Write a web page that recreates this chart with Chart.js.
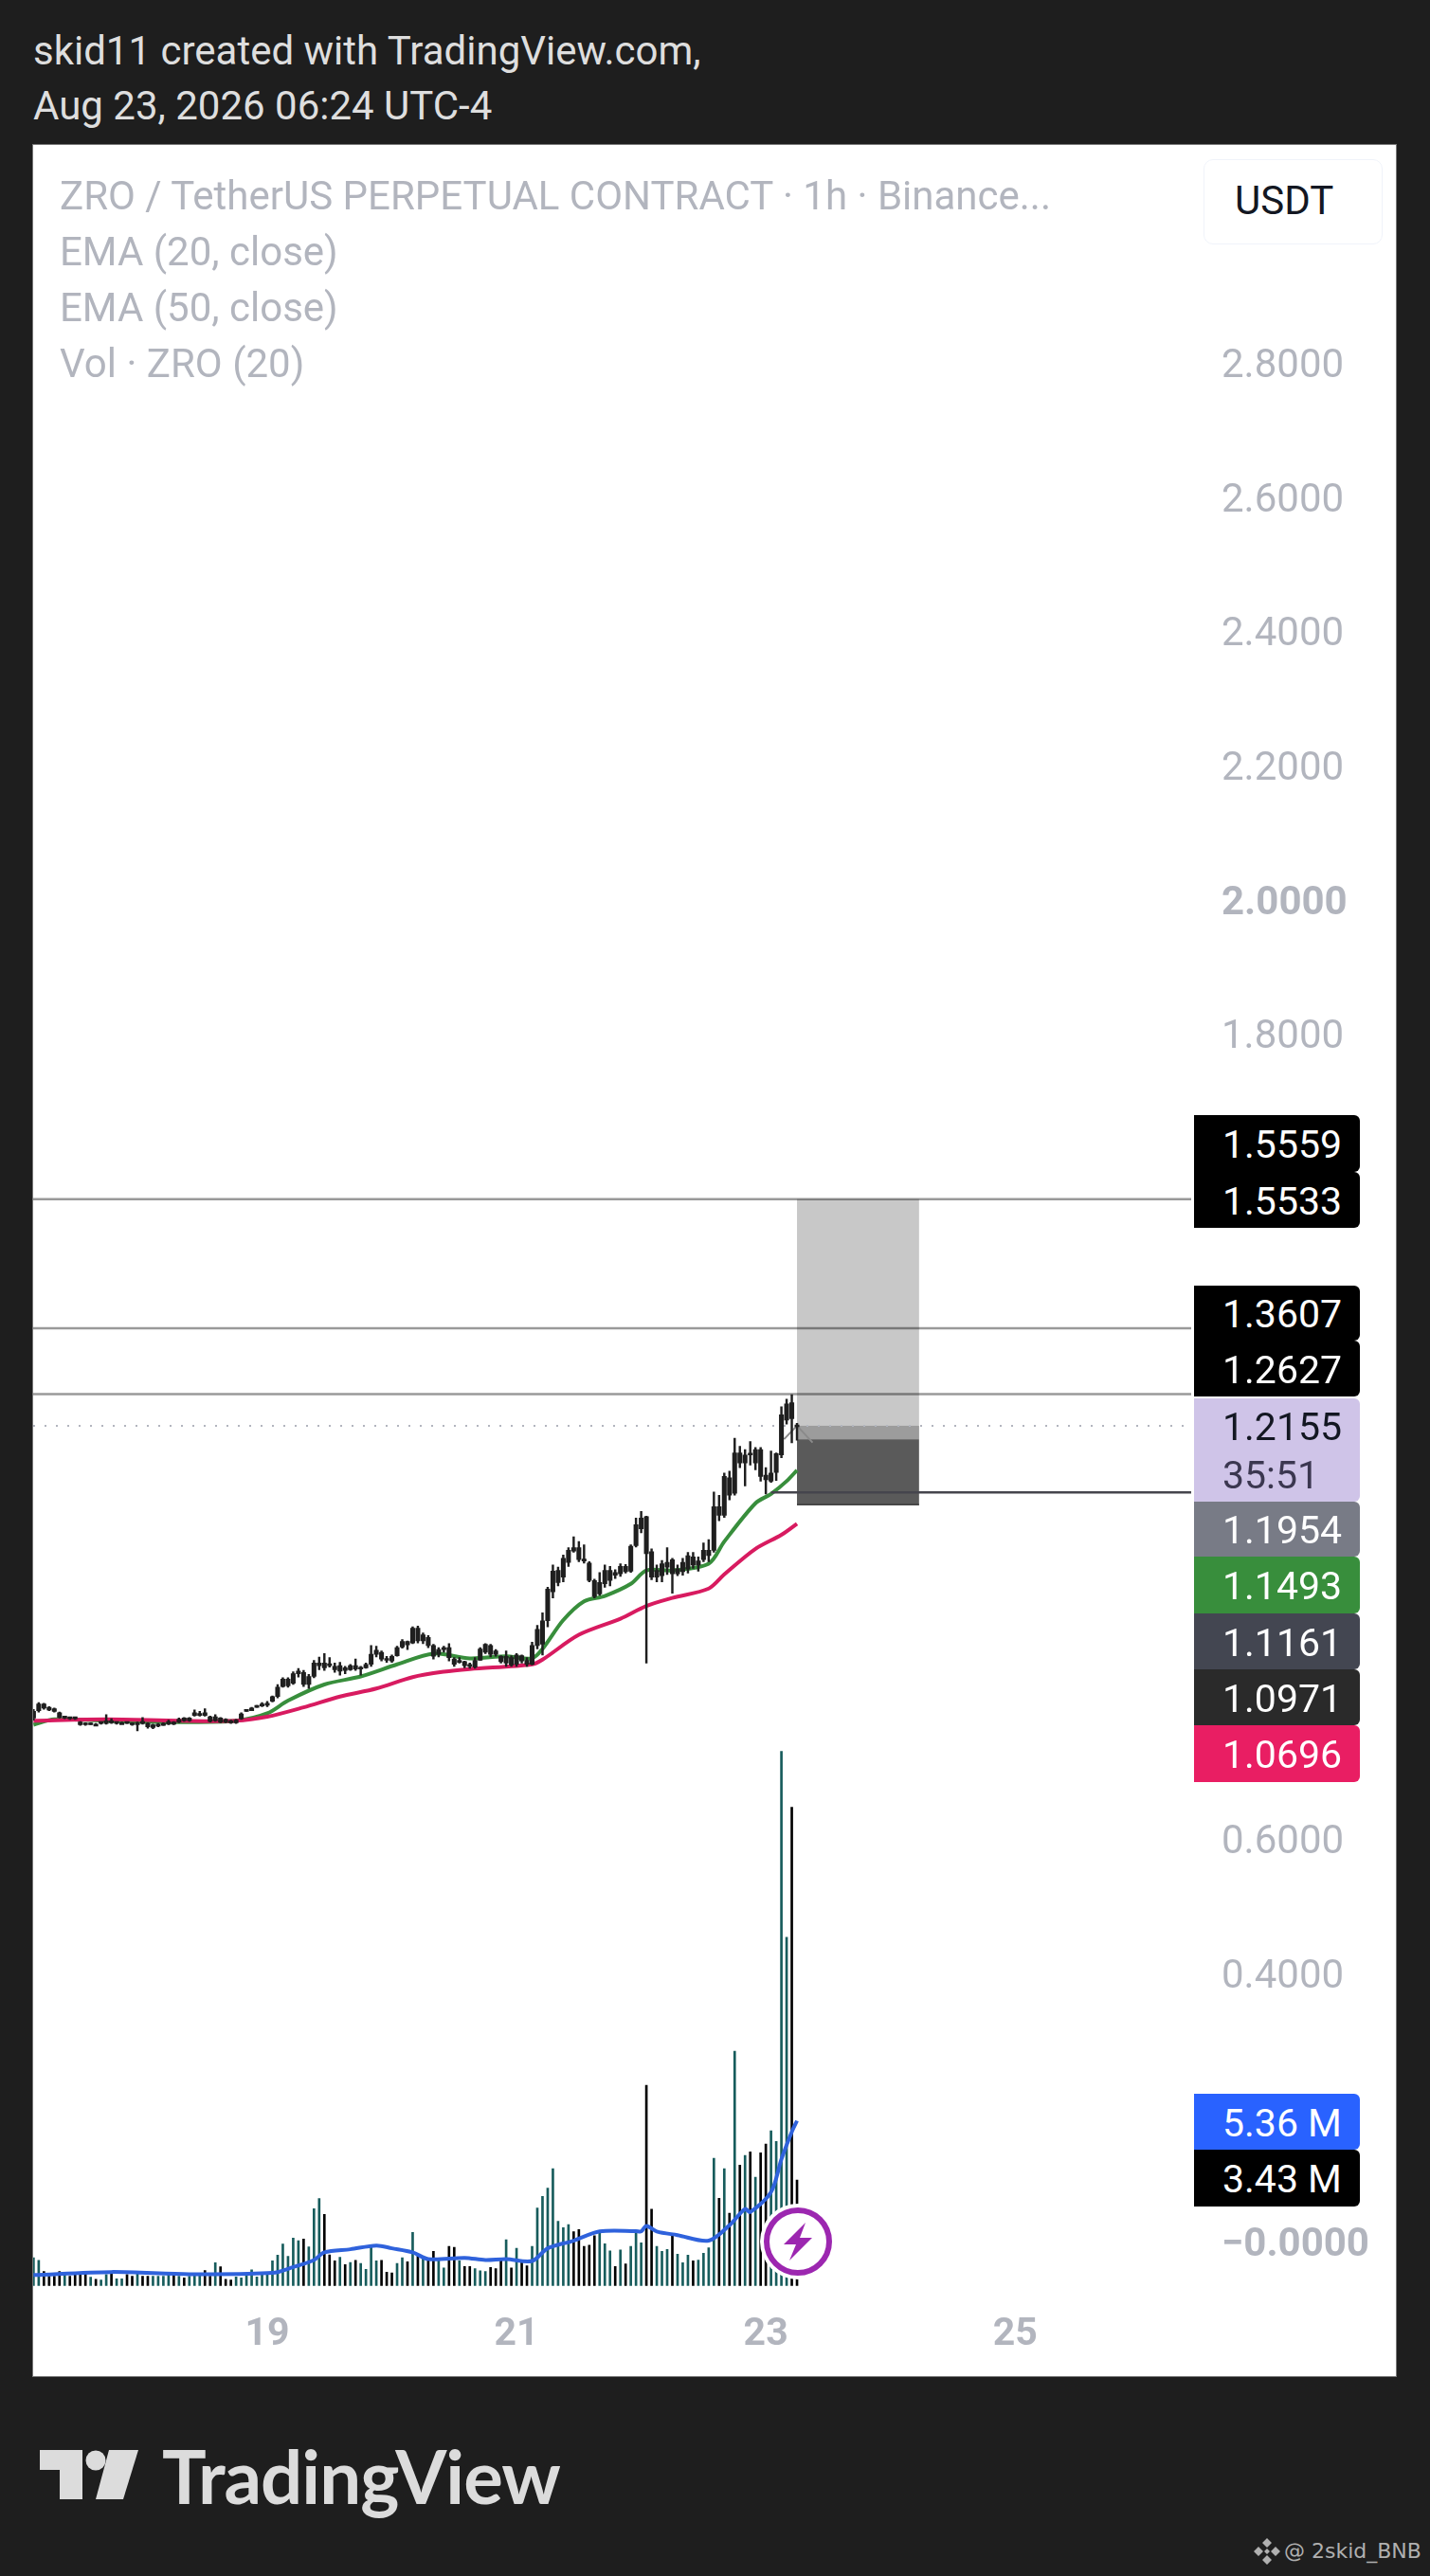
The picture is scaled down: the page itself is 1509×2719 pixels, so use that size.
<!DOCTYPE html>
<html>
<head>
<meta charset="utf-8">
<title>ZRO / TetherUS</title>
<script src="https://cdn.jsdelivr.net/npm/chart.js@4"></script>
<style>
  html, body { margin: 0; padding: 0; background: #1e1e1e; }
  body { position: relative; width: 1509px; height: 2719px; overflow: hidden; font-family: Roboto, sans-serif; }
  .abs { position: absolute; white-space: nowrap; }
  .header { left: 35px; color: #dedede; font-size: 42px; line-height: 50px; }
  #panel { left: 35px; top: 153px; width: 1438px; height: 2355px; background: #fff; box-shadow: 0 0 0 1px #777; }
  #chart { position: absolute; left: 35px; top: 153px; }
  .legend { left: 63px; color: #b2b5be; font-size: 42px; line-height: 50px; }
  #unit { left: 1270px; top: 168px; width: 187px; height: 88px; border: 1px solid #f0f3fa; border-radius: 10px;
          background: #fff; color: #131722; font-size: 42px; line-height: 86px; text-align: left; text-indent: 32px; }
  .tag { left: 1260px; width: 145px; padding-left: 30px; color: #fff; font-size: 41px; border-radius: 0 6px 6px 0; }
  #logo-text { left: 171px; top: 2566px; color: #dcdcdc; font-family: Lato, sans-serif; font-weight: 700; font-size: 78px; line-height: 94px; letter-spacing: -1px; }
  #watermark { left: 1355px; top: 2680px; color: #b0b0b0; font-family: "DejaVu Sans", sans-serif; font-size: 22px; line-height: 26px; }
</style>
</head>
<body>
<div class="abs header" style="top:29px">skid11 created with TradingView.com,</div>
<div class="abs header" style="top:87px">Aug 23, 2026 06:24 UTC-4</div>
<div class="abs" id="panel"></div>
<canvas id="chart" width="1438" height="2355"></canvas>
<div class="abs legend" style="top:182px">ZRO / TetherUS PERPETUAL CONTRACT · 1h · Binance...</div>
<div class="abs legend" style="top:241px">EMA (20, close)</div>
<div class="abs legend" style="top:300px">EMA (50, close)</div>
<div class="abs legend" style="top:359px">Vol · ZRO (20)</div>
<div class="abs" id="unit">USDT</div>
<div id="tags"></div>

<svg class="abs" style="left:800px;top:2324px" width="84" height="84" viewBox="0 0 84 84">
  <circle cx="42" cy="42" r="40" fill="#fff"/>
  <circle cx="42" cy="42" r="33" fill="#fff" stroke="#9c27b0" stroke-width="6"/>
  <path d="M50 22 L27 45 L40 45 L33 62 L57 38 L44 38 Z" fill="#9c27b0"/>
</svg>

<svg class="abs" style="left:40px;top:2584px" width="110" height="56" viewBox="0 0 110 56">
  <path d="M2 2 H47 V54 H23 V23 H2 Z" fill="#dcdcdc"/>
  <circle cx="61" cy="13" r="10.5" fill="#dcdcdc"/>
  <path d="M75 2 H106 L90 54 H61 Z" fill="#dcdcdc"/>
</svg>
<div class="abs" id="logo-text">TradingView</div>

<svg class="abs" style="left:1323px;top:2678px" width="28" height="30" viewBox="0 0 28 30">
  <path d="M14 1 L19 6 L14 11 L9 6 Z M14 19 L19 24 L14 29 L9 24 Z M5 10 L10 15 L5 20 L0 15 Z M23 10 L28 15 L23 20 L18 15 Z M14 12 L17 15 L14 18 L11 15 Z" fill="#b0b0b0"/>
</svg>
<div class="abs" id="watermark">@ 2skid_BNB</div>

<script>
// Axis ticks
const priceTicks = [0, 0.2, 0.4, 0.6, 0.8, 1.0, 1.2, 1.4, 1.6, 1.8, 2.0, 2.2, 2.4, 2.6, 2.8];
const dayTickBars = [45, 93, 141, 189];
const dayLabels = ["19", "21", "23", "25"];

// Hourly candles, one value per bar
const highs = [
  .793,.803,.802,.797,.795,.789,.783,.781,.781,.775,.773,.773,.772,.774,.785,.779,.774,.774,.774,.773,
  .774,.781,.773,.771,.772,.773,.777,.775,.780,.781,.781,.792,.790,.794,.783,.785,.781,.779,.777,.778,
  .788,.793,.796,.799,.803,.805,.813,.830,.840,.840,.849,.854,.851,.845,.866,.871,.876,.870,.862,.863,
  .857,.860,.868,.857,.862,.888,.887,.880,.872,.874,.887,.897,.895,.916,.917,.907,.903,.890,.885,.887,
  .891,.870,.870,.865,.862,.870,.885,.891,.890,.882,.873,.880,.873,.876,.874,.870,.893,.918,.937,.975,
  1.008,1.005,1.023,1.034,1.050,1.043,1.038,1.013,.987,.997,1.008,1.006,1.001,1.010,1.009,1.038,1.078,1.088,1.081,1.032,
  1.008,1.015,1.034,1.018,1.008,1.018,1.027,1.027,1.020,1.041,1.046,1.117,1.112,1.145,1.148,1.197,1.185,1.180,1.192,1.183,
  1.183,1.153,1.178,1.175,1.244,1.255,1.262,1.219
];
const lows = [
  .777,.789,.793,.791,.789,.780,.779,.778,.778,.769,.769,.770,.770,.771,.771,.772,.771,.772,.772,.769,
  .761,.771,.765,.764,.767,.769,.770,.770,.773,.775,.775,.783,.783,.783,.774,.775,.773,.773,.772,.772,
  .778,.790,.791,.796,.797,.797,.804,.810,.826,.826,.830,.841,.827,.824,.840,.852,.851,.856,.848,.844,
  .846,.851,.851,.844,.854,.857,.871,.865,.863,.863,.872,.884,.882,.891,.892,.891,.885,.868,.871,.878,
  .865,.857,.862,.855,.854,.854,.866,.876,.871,.872,.862,.857,.857,.857,.862,.857,.859,.883,.874,.916,
  .959,.977,.983,1.006,1.027,1.013,1.011,.983,.959,.963,.975,.977,.988,.991,.996,.997,1.035,1.056,.862,.986,
  .983,.983,.994,.966,.992,.993,.996,1.003,.999,1.013,1.013,1.027,1.074,1.079,1.105,1.112,1.153,1.126,1.157,1.150,
  1.133,1.114,1.131,1.134,1.168,1.218,1.190,1.194
];
const opens = [
  .780,.791,.801,.796,.794,.788,.780,.780,.780,.774,.772,.770,.771,.772,.772,.776,.772,.773,.773,.772,
  .770,.772,.772,.766,.770,.769,.771,.774,.774,.776,.780,.784,.784,.788,.782,.776,.780,.778,.776,.773,
  .779,.790,.791,.796,.798,.799,.805,.812,.827,.828,.832,.846,.848,.830,.842,.858,.862,.860,.857,.850,
  .855,.852,.858,.853,.855,.860,.875,.878,.868,.865,.873,.886,.894,.892,.914,.895,.900,.888,.875,.882,
  .885,.868,.863,.864,.860,.856,.866,.878,.888,.875,.872,.862,.870,.860,.873,.866,.860,.888,.890,.925,
  .968,.982,.990,1.012,1.029,1.034,1.014,1.011,.985,.965,.980,.985,.993,.995,.998,.999,1.037,1.062,1.080,1.028,
  .990,.992,1.005,1.016,.995,.998,1.002,1.020,1.008,1.016,1.030,1.030,1.095,1.082,1.138,1.115,1.175,1.160,1.172,1.180,
  1.180,1.142,1.133,1.146,1.172,1.224,1.250,1.214
];
const closes = [
  .790,.801,.795,.792,.790,.781,.782,.779,.779,.770,.770,.772,.771,.773,.776,.773,.773,.773,.772,.770,
  .772,.775,.767,.770,.768,.772,.775,.771,.778,.780,.776,.788,.787,.784,.775,.782,.774,.774,.773,.777,
  .786,.792,.795,.798,.800,.802,.812,.826,.838,.838,.846,.850,.830,.842,.862,.862,.855,.858,.852,.858,
  .851,.858,.853,.855,.860,.875,.881,.868,.866,.872,.885,.894,.889,.914,.895,.904,.888,.872,.882,.884,
  .870,.860,.866,.858,.857,.866,.883,.890,.875,.880,.864,.872,.859,.874,.865,.860,.888,.912,.925,.972,
  .999,1.000,1.018,1.030,1.034,1.016,1.016,.985,.961,.982,1.000,1.000,.997,1.006,1.006,1.036,1.068,1.078,1.025,.990,
  1.000,1.010,1.012,.995,1.002,1.012,1.022,1.008,1.014,1.030,1.022,1.095,1.082,1.140,1.112,1.175,1.160,1.172,1.174,1.160,
  1.140,1.135,1.145,1.174,1.232,1.248,1.226,1.2155
];

// Volume in millions, with the direction of each bar
const volumes = [
  .90,.82,.46,.30,.30,.46,.36,.30,.36,.39,.39,.27,.20,.18,.36,.39,.22,.22,.36,.30,
  .46,.30,.30,.30,.30,.30,.43,.39,.30,.25,.30,.39,.32,.49,.30,.74,.61,.20,.18,.28,
  .25,.36,.51,.28,.36,.39,.80,.99,1.35,.95,1.54,1.46,1.51,1.26,2.50,2.83,2.31,1.00,.80,.92,
  .68,.75,.82,.72,.53,1.31,.80,.82,.43,.41,.72,.90,.77,1.73,.98,.88,.82,1.11,.82,.57,
  1.27,1.24,.80,.62,.62,.55,.48,.46,.59,.55,.82,1.49,.57,1.21,.74,.64,1.27,2.52,2.90,3.17,
  3.80,2.09,1.88,1.98,1.75,1.82,1.27,1.31,1.62,1.70,1.36,1.13,.62,1.16,.70,1.27,1.75,1.39,6.51,2.48,
  1.27,1.11,1.17,1.64,1.02,.74,.99,.80,.83,1.05,1.23,4.14,2.84,3.80,2.35,7.62,3.92,4.23,4.35,3.52,
  4.32,4.60,5.03,4.69,17.38,11.33,15.56,3.43
];
const volumeDirs = [
  "u","u","d","d","d","d","u","d","d","d","d","u","d","u","u","d","u","u","d","d",
  "u","d","d","u","u","u","u","d","u","d","u","u","u","d","d","u","d","d","d","u",
  "u","u","u","u","u","u","u","u","u","u","u","u","d","u","u","u","d","d","d","u",
  "d","u","d","u","u","u","u","d","d","d","u","u","d","u","d","u","d","d","u","u",
  "d","d","u","d","d","u","u","u","d","d","d","u","d","u","d","d","u","u","u","u",
  "u","u","u","u","d","d","d","d","d","u","u","u","d","u","d","u","u","u","d","d",
  "u","u","u","d","u","u","u","d","u","u","u","u","d","u","d","u","d","u","d","u",
  "d","d","u","u","u","u","d","d"
];

// Indicator lines read at the bars where they bend
const ema20Bars = [0,4,14,28,39,45,49,56,63,70,77,84,91,96,98,102,106,110,115,118,123,130,133,139,142,145,147];
const ema20Values = [.770,.778,.776,.774,.776,.787,.806,.830,.842,.860,.876,.869,.872,.869,.883,.926,.954,.962,.980,1.000,1.000,1.010,1.043,1.100,1.114,1.133,1.1493];
const ema50Bars = [0,14,28,39,45,52,59,66,73,79,84,96,98,105,113,118,123,130,133,139,144,147];
const ema50Values = [.776,.778,.776,.776,.782,.796,.812,.824,.841,.849,.853,.860,.867,.904,.928,.947,.959,.973,.994,1.032,1.053,1.0696];
const volMaBars = [0,15,30,46,50,54,56,61,66,69,73,76,83,87,91,96,99,104,109,116,117,118,120,124,130,134,137,138,142,144,146,147];
const volMaValues = [.34,.44,.37,.41,.60,.83,1.08,1.18,1.30,1.21,1.08,.86,.90,.83,.86,.80,1.21,1.46,1.76,1.77,1.76,1.94,1.76,1.64,1.46,1.96,2.49,2.39,3.04,4.11,5.00,5.36];

// Price levels of the long position tool and the drawn lines
const targetPrice = 1.5533;
const currentPrice = 1.2155;
const entryPrice = 1.1954;
const stopPrice = 1.0971;
const drawnLevels = [1.5533, 1.3607, 1.2627];
const drawnLevelBar = 142;
const drawnLevel = 1.1161;
const positionBars = [147, 170.5];
const tradePathBars = [144.5, 147, 150];
const tradePathPrices = [1.1954, 1.2155, 1.1905];

// Right axis tags
const tagLabels = ["1.5559", "1.5533", "1.3607", "1.2627", "1.2155", "1.1954", "1.1493", "1.1161", "1.0971", "1.0696", "5.36 M", "3.43 M"];
const tagColors = ["#000", "#000", "#000", "#000", "#cfc4e8", "#787b86", "#388e3c", "#434651", "#2a2a2a", "#e91e63", "#2962ff", "#000"];
const tagTops = [1177, 1237, 1357, 1415, 1476, 1585, 1643, 1703, 1762, 1821, 2210, 2269];
const tagHeights = [60, 59, 58, 59, 109, 58, 60, 59, 59, 60, 59, 60];
const countdownLabel = "35:51";

const barIndexes = highs.map((_, i) => i);
const X_MIN = -0.07;
const X_MAX = 222.9;

// Build the html tags on top of the price axis
function buildTags() {
  const holder = document.getElementById("tags");
  tagLabels.forEach((label, i) => {
    const tag = document.createElement("div");
    tag.className = "abs tag";
    tag.style.top = tagTops[i] + "px";
    tag.style.height = tagHeights[i] + "px";
    tag.style.background = tagColors[i];
    if (label === "1.2155") {
      tag.style.color = "#131722";
      tag.innerHTML = `<div style="line-height:60px">${label}</div><div style="line-height:42px;color:#3b3750">${countdownLabel}</div>`;
    } else {
      tag.style.lineHeight = tagHeights[i] + 3 + "px";
      tag.textContent = label;
    }
    holder.appendChild(tag);
  });
}

function toPoints(bars, values) {
  return bars.map((bar, i) => ({ x: bar, y: values[i] }));
}

function levelLine(price, color, width, dash, fromBar) {
  return {
    type: "line",
    data: [{ x: fromBar === undefined ? X_MIN : fromBar, y: price }, { x: X_MAX, y: price }],
    borderColor: color,
    borderWidth: width,
    borderDash: dash || [],
    pointRadius: 0,
    order: 2,
  };
}

// Boxes of the position tool, drawn under all the datasets
const positionBoxes = {
  id: "positionBoxes",
  beforeDatasetsDraw(chart) {
    const { ctx, scales } = chart;
    const left = scales.x.getPixelForValue(positionBars[0]);
    const right = scales.x.getPixelForValue(positionBars[1]);
    const band = (from, to, color) => {
      const top = scales.y.getPixelForValue(to);
      const bottom = scales.y.getPixelForValue(from);
      ctx.fillStyle = color;
      ctx.fillRect(left, top, right - left, bottom - top);
    };
    band(entryPrice, targetPrice, "#c8c8c8");
    band(entryPrice, currentPrice, "#9c9c9c");
    band(stopPrice, entryPrice, "#5a5a5a");
    band(stopPrice, stopPrice + 0.002, "#3c3c3c");
  },
};

function createChart() {
  const ctx = document.getElementById("chart").getContext("2d");
  new Chart(ctx, {
    data: {
      datasets: [
        levelLine(targetPrice, "rgba(0,0,0,0.4)", 2.5),
        levelLine(drawnLevels[1], "rgba(0,0,0,0.4)", 2.5),
        levelLine(drawnLevels[2], "rgba(0,0,0,0.4)", 2.5),
        levelLine(drawnLevel, "#45454d", 2.5, [], drawnLevelBar),
        levelLine(currentPrice, "#b2b5be", 2, [2, 10]),
        {
          type: "line",
          data: toPoints(tradePathBars, tradePathPrices),
          borderColor: "#8a8a8a",
          borderWidth: 2,
          pointRadius: 0,
          order: 3,
        },
        {
          type: "line",
          data: toPoints(ema50Bars, ema50Values),
          borderColor: "#d81b60",
          borderWidth: 4,
          tension: 0.3,
          pointRadius: 0,
          order: 4,
        },
        {
          type: "line",
          data: toPoints(ema20Bars, ema20Values),
          borderColor: "#388e3c",
          borderWidth: 4,
          tension: 0.3,
          pointRadius: 0,
          order: 4,
        },
        {
          type: "bar",
          data: barIndexes.map((i) => ({ x: i, y: [lows[i], highs[i]] })),
          backgroundColor: "#1f1f1f",
          barThickness: 1.8,
          order: 1,
        },
        {
          type: "bar",
          data: barIndexes.map((i) => ({ x: i, y: [opens[i], closes[i]] })),
          backgroundColor: "#1f1f1f",
          barThickness: 4.4,
          minBarLength: 2,
          order: 1,
        },
        {
          type: "line",
          yAxisID: "vol",
          data: toPoints(volMaBars, volMaValues),
          borderColor: "#2f62dc",
          borderWidth: 4,
          tension: 0.3,
          pointRadius: 0,
          order: 5,
        },
        {
          type: "bar",
          yAxisID: "vol",
          data: barIndexes.map((i) => ({ x: i, y: volumes[i] })),
          backgroundColor: volumeDirs.map((d) => (d === "u" ? "#175c5c" : "#000")),
          barThickness: 2,
          order: 6,
        },
      ],
    },
    options: {
      responsive: false,
      animation: false,
      devicePixelRatio: 1,
      layout: { padding: 0, autoPadding: false },
      datasets: { bar: { grouped: false } },
      plugins: { legend: { display: false }, tooltip: { enabled: false } },
      scales: {
        x: {
          type: "linear",
          offset: false,
          min: X_MIN,
          max: X_MAX,
          grid: { display: false },
          border: { display: false },
          afterFit(scale) { scale.height = 93; },
          afterBuildTicks(scale) { scale.ticks = dayTickBars.map((value) => ({ value })); },
          ticks: {
            autoSkip: false,
            maxRotation: 0,
            padding: 17,
            color: "#b2b5be",
            font: { family: "Roboto", size: 41, weight: "bold" },
            callback: (value) => dayLabels[dayTickBars.indexOf(value)],
          },
        },
        y: {
          position: "right",
          min: -0.0692,
          max: 3.0545,
          grid: { display: false },
          border: { display: false },
          afterFit(scale) { scale.width = 216; },
          afterBuildTicks(scale) { scale.ticks = priceTicks.map((value) => ({ value })); },
          ticks: {
            autoSkip: false,
            padding: 24,
            labelOffset: 5,
            color: "#b2b5be",
            font: (c) => ({
              family: "Roboto",
              size: 42,
              weight: c.tick && (c.tick.value === 0 || c.tick.value === 2) ? "bold" : "normal",
            }),
            callback: (value) => (value === 0 ? "−0.0000" : value.toFixed(4)),
          },
        },
        vol: {
          display: false,
          min: -0.08,
          max: 68.12,
        },
      },
    },
    plugins: [positionBoxes],
  });
}

buildTags();
createChart();
</script>
</body>
</html>
